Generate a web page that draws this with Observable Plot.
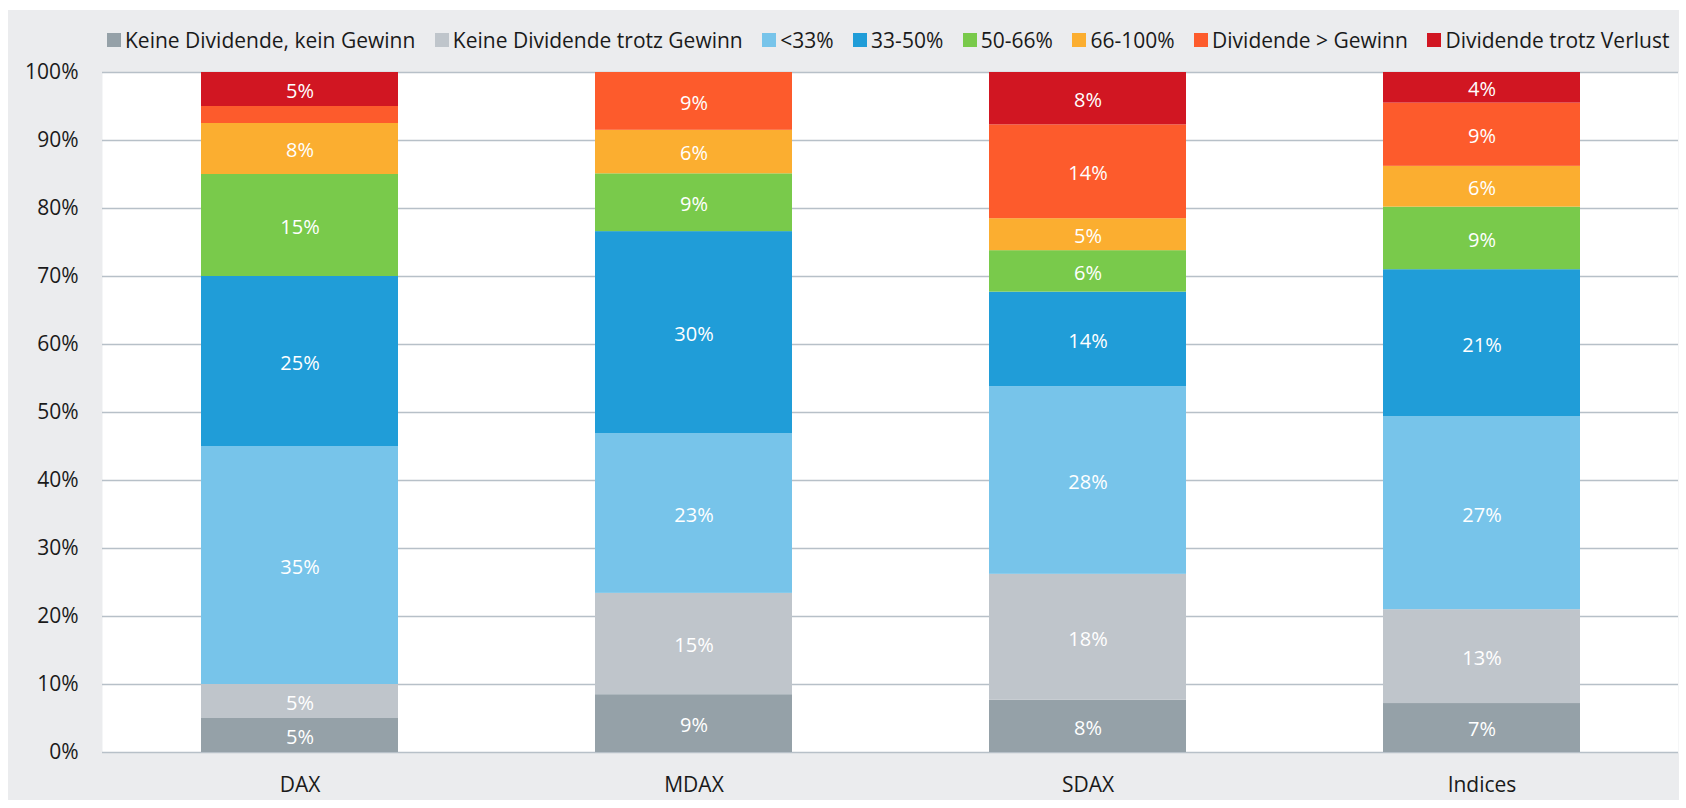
<!DOCTYPE html>
<html>
<head>
<meta charset="utf-8">
<script src="https://cdn.jsdelivr.net/npm/d3@7"></script>
<script src="https://cdn.jsdelivr.net/npm/@observablehq/plot@0.6"></script>
<style>
  html, body { margin: 0; padding: 0; background: #ffffff; }
  body { width: 1686px; height: 808px; position: relative; overflow: hidden; font-family: "Open Sans", sans-serif; }
  #panel { position: absolute; left: 8px; top: 10px; width: 1671px; height: 790px; background: #ebecee; }
  #legend { height: 52px; box-sizing: border-box; padding-top: 8px; padding-left: 99px; display: flex; align-items: center; font-size: 21px; color: #1a1a1a; white-space: nowrap; }
  .item { display: flex; align-items: center; margin-right: 19.5px; }
  .sw { width: 14px; height: 14px; margin-right: 4px; flex: none; }
  #chart svg { display: block; }
</style>
</head>
<body>
<div id="panel">
  <div id="legend"></div>
  <div id="chart"></div>
</div>
<script>
// Categories (x) and stacked series (bottom to top)
const indices = ["DAX", "MDAX", "SDAX", "Indices"];
const series = [
  "Keine Dividende, kein Gewinn",
  "Keine Dividende trotz Gewinn",
  "<33%",
  "33-50%",
  "50-66%",
  "66-100%",
  "Dividende > Gewinn",
  "Dividende trotz Verlust"
];
const colors = ["#95a1a8", "#bfc5cb", "#77c4ea", "#209dd8", "#79ca4b", "#fbae30", "#fd5b2c", "#d11622"];

// Segment shares in percent, one array per series, in the order of `indices`
const keineKeinGewinn = [5.0, 8.5, 7.7, 7.2];
const keineTrotzGewinn = [5.0, 14.9, 18.5, 13.8];
const unter33 = [35.0, 23.5, 27.6, 28.4];
const von33bis50 = [25.0, 29.7, 13.9, 21.6];
const von50bis66 = [15.0, 8.5, 6.1, 9.2];
const von66bis100 = [7.5, 6.4, 4.7, 6.0];
const dividendeGtGewinn = [2.5, 8.5, 13.8, 9.3];
const trotzVerlust = [5.0, 0.0, 7.7, 4.5];

// Printed segment labels (as shown in the chart; null = no label)
const lblKeineKeinGewinn = [5, 9, 8, 7];
const lblKeineTrotzGewinn = [5, 15, 18, 13];
const lblUnter33 = [35, 23, 28, 27];
const lbl33bis50 = [25, 30, 14, 21];
const lbl50bis66 = [15, 9, 6, 9];
const lbl66bis100 = [8, 6, 5, 6];
const lblDividendeGtGewinn = [null, 9, 14, 9];
const lblTrotzVerlust = [5, null, 8, 4];

const yTicks = [0, 10, 20, 30, 40, 50, 60, 70, 80, 90, 100];

const valueArrays = [keineKeinGewinn, keineTrotzGewinn, unter33, von33bis50, von50bis66, von66bis100, dividendeGtGewinn, trotzVerlust];
const labelArrays = [lblKeineKeinGewinn, lblKeineTrotzGewinn, lblUnter33, lbl33bis50, lbl50bis66, lbl66bis100, lblDividendeGtGewinn, lblTrotzVerlust];

const data = [];
series.forEach((s, si) => {
  indices.forEach((idx, ii) => {
    data.push({index: idx, series: s, value: valueArrays[si][ii], label: labelArrays[si][ii]});
  });
});

// Legend
const legend = document.getElementById("legend");
series.forEach((s, i) => {
  const it = document.createElement("div");
  it.className = "item";
  const sw = document.createElement("span");
  sw.className = "sw";
  sw.style.background = colors[i];
  const tx = document.createElement("span");
  tx.textContent = s;
  it.appendChild(sw);
  it.appendChild(tx);
  legend.appendChild(it);
});

const chart = Plot.plot({
  width: 1671,
  height: 738,
  marginTop: 10,
  marginBottom: 48,
  marginLeft: 94,
  marginRight: 1,
  style: {fontFamily: "Open Sans, sans-serif", fontSize: "21px", color: "#1a1a1a", background: "transparent", overflow: "visible"},
  x: {domain: indices, paddingInner: 0.5, paddingOuter: 0.25, label: null, tickSize: 0, tickPadding: 25},
  y: {domain: [0, 100], ticks: yTicks, tickFormat: d => d + "%", label: null, tickSize: 0, tickPadding: 24},
  color: {domain: series, range: colors},
  marks: [
    Plot.frame({fill: "#ffffff", stroke: null}),
    Plot.ruleY(yTicks, {stroke: "#b7c0c8", strokeWidth: 1.5}),
    Plot.barY(data, Plot.stackY({x: "index", y: "value", fill: "series", inset: 0})),
    Plot.text(data, Plot.stackY({
      x: "index", y: "value",
      text: d => d.label == null ? "" : d.label + "%",
      fill: "white", fontSize: 20, dy: 2
    }))
  ]
});
document.getElementById("chart").appendChild(chart);
</script>
</body>
</html>
